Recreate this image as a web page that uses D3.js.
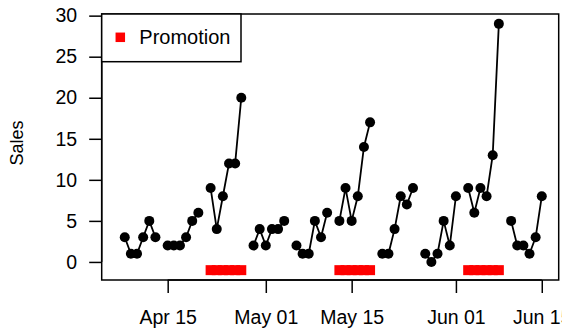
<!DOCTYPE html>
<html>
<head>
<meta charset="utf-8">
<script src="https://cdn.jsdelivr.net/npm/d3@7"></script>
<style>
  html, body { margin: 0; padding: 0; background: #fff; }
  svg { display: block; }
  text { font-family: "Liberation Sans", Arial, Helvetica, sans-serif; fill: #000; }
</style>
</head>
<body>
<svg id="chart" width="562" height="335"></svg>
<script>
// ---- data (Sundays are missing -> null) ----
const dates = [
  "2019-04-07","2019-04-08","2019-04-09","2019-04-10","2019-04-11","2019-04-12","2019-04-13",
  "2019-04-14","2019-04-15","2019-04-16","2019-04-17","2019-04-18","2019-04-19","2019-04-20",
  "2019-04-21","2019-04-22","2019-04-23","2019-04-24","2019-04-25","2019-04-26","2019-04-27",
  "2019-04-28","2019-04-29","2019-04-30","2019-05-01","2019-05-02","2019-05-03","2019-05-04",
  "2019-05-05","2019-05-06","2019-05-07","2019-05-08","2019-05-09","2019-05-10","2019-05-11",
  "2019-05-12","2019-05-13","2019-05-14","2019-05-15","2019-05-16","2019-05-17","2019-05-18",
  "2019-05-19","2019-05-20","2019-05-21","2019-05-22","2019-05-23","2019-05-24","2019-05-25",
  "2019-05-26","2019-05-27","2019-05-28","2019-05-29","2019-05-30","2019-05-31","2019-06-01",
  "2019-06-02","2019-06-03","2019-06-04","2019-06-05","2019-06-06","2019-06-07","2019-06-08",
  "2019-06-09","2019-06-10","2019-06-11","2019-06-12","2019-06-13","2019-06-14","2019-06-15"
];
const sales = [
  null, 3, 1, 1, 3, 5, 3,
  null, 2, 2, 2, 3, 5, 6,
  null, 9, 4, 8, 12, 12, 20,
  null, 2, 4, 2, 4, 4, 5,
  null, 2, 1, 1, 5, 3, 6,
  null, 5, 9, 5, 8, 14, 17,
  null, 1, 1, 4, 8, 7, 9,
  null, 1, 0, 1, 5, 2, 8,
  null, 9, 6, 9, 8, 13, 29,
  null, 5, 2, 2, 1, 3, 8
];
const promotionDates = [
  "2019-04-22","2019-04-23","2019-04-24","2019-04-25","2019-04-26","2019-04-27",
  "2019-05-13","2019-05-14","2019-05-15","2019-05-16","2019-05-17","2019-05-18",
  "2019-06-03","2019-06-04","2019-06-05","2019-06-06","2019-06-07","2019-06-08"
];
const promotionLevel = -1;
const xTickDates = ["2019-04-15","2019-05-01","2019-05-15","2019-06-01","2019-06-15"];
const yTicks = [0, 5, 10, 15, 20, 25, 30];
const legendLabel = "Promotion";
const yLabel = "Sales";

// ---- layout ----
const parse = d3.utcParse("%Y-%m-%d");
const fmt = d3.utcFormat("%b %d");
const L = 101.7, R = 558.7, T = 14, B = 280;
const fontSize = 19.5;

const data = dates.map((d, i) => ({ date: parse(d), value: sales[i] }));
const promo = promotionDates.map(d => ({ date: parse(d), value: promotionLevel }));

// R style 4% expansion
const xExt = d3.extent(data, d => d.date);
const xPad = (xExt[1] - xExt[0]) * 0.04;
const x = d3.scaleUtc()
  .domain([new Date(+xExt[0] - xPad), new Date(+xExt[1] + xPad)])
  .range([L, R]);

const yMin = d3.min([promotionLevel, d3.min(sales)]);
const yMax = d3.max(sales);
const yPad = (yMax - yMin) * 0.04;
const y = d3.scaleLinear().domain([yMin - yPad, yMax + yPad]).range([B, T]);

const svg = d3.select("#chart");

// line with gaps
const line = d3.line()
  .defined(d => d.value !== null)
  .x(d => x(d.date))
  .y(d => y(d.value));

svg.append("path")
  .datum(data)
  .attr("d", line)
  .attr("fill", "none")
  .attr("stroke", "#000")
  .attr("stroke-width", 1.8);

svg.append("g").selectAll("circle")
  .data(data.filter(d => d.value !== null))
  .join("circle")
  .attr("cx", d => x(d.date))
  .attr("cy", d => y(d.value))
  .attr("r", 5)
  .attr("fill", "#000");

// promotion squares
const sq = 10;
svg.append("g").selectAll("rect")
  .data(promo)
  .join("rect")
  .attr("x", d => x(d.date) - sq / 2)
  .attr("y", d => y(d.value) - sq / 2)
  .attr("width", sq)
  .attr("height", sq)
  .attr("fill", "#ff0000");

// box
svg.append("rect")
  .attr("x", L).attr("y", T)
  .attr("width", R - L).attr("height", B - T)
  .attr("fill", "none").attr("stroke", "#000").attr("stroke-width", 1.5);

// x axis
const xAxis = d3.axisBottom(x)
  .tickValues(xTickDates.map(parse))
  .tickFormat(fmt)
  .tickSize(13)
  .tickPadding(17);
const gx = svg.append("g").attr("transform", `translate(0,${B})`).call(xAxis);
gx.select(".domain")
  .attr("d", `M${x(parse(xTickDates[0]))},0H${x(parse(xTickDates[xTickDates.length-1]))}`)
  .attr("stroke-width", 1.5);
gx.selectAll(".tick line").attr("stroke-width", 1.5);
gx.selectAll("text")
  .attr("font-size", fontSize)
  .attr("font-family", "'Liberation Sans', Arial, sans-serif")
  .attr("fill", "#000");

// y axis
const yAxis = d3.axisLeft(y)
  .tickValues(yTicks)
  .tickSize(12.5)
  .tickPadding(12);
const gy = svg.append("g").attr("transform", `translate(${L},0)`).call(yAxis);
gy.select(".domain")
  .attr("d", `M0,${y(yTicks[0])}V${y(yTicks[yTicks.length-1])}`)
  .attr("stroke-width", 1.5);
gy.selectAll(".tick line").attr("stroke-width", 1.5);
gy.selectAll("text")
  .attr("font-size", fontSize)
  .attr("font-family", "'Liberation Sans', Arial, sans-serif")
  .attr("fill", "#000");

// y label
svg.append("text")
  .attr("transform", `translate(23,143) rotate(-90)`)
  .attr("text-anchor", "middle")
  .attr("font-size", 18)
  .text(yLabel);

// legend
const lg = svg.append("g");
lg.append("rect")
  .attr("x", L).attr("y", T)
  .attr("width", 139.3).attr("height", 47.7)
  .attr("fill", "#fff").attr("stroke", "#000").attr("stroke-width", 1.5);
lg.append("rect")
  .attr("x", 120.3 - 4.75).attr("y", 37.3 - 4.75)
  .attr("width", 9.5).attr("height", 9.5)
  .attr("fill", "#ff0000");
lg.append("text")
  .attr("x", 139.3).attr("y", 44.3)
  .attr("font-size", 20)
  .text(legendLabel);
</script>
</body>
</html>
